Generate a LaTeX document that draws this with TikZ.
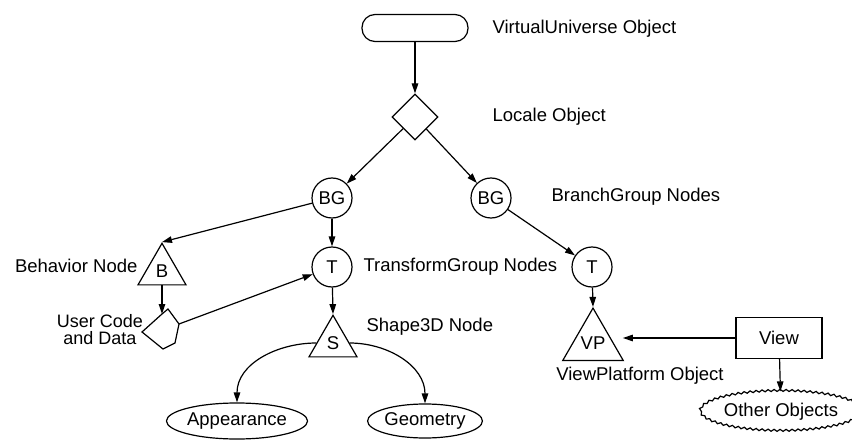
\documentclass[tikz,border=0pt]{standalone}
\usepackage{fontspec}
\setmainfont{Liberation Sans}
\usetikzlibrary{arrows.meta,shapes.geometric,decorations.pathmorphing}

\begin{document}
\begin{tikzpicture}[x=1pt,y=-1pt,line width=1.2pt,
  >={Triangle[length=10pt,width=6.5pt]},
  every node/.style={font=\fontsize{18.5}{15}\selectfont},
  GrpNode/.style={draw,circle,minimum size=40pt,inner sep=0pt},
  LeafNode/.style={draw,regular polygon,regular polygon sides=3,minimum size=55.4pt,inner sep=0pt},
  ObjNode/.style={draw,ellipse,inner sep=0pt},
  LblTxt/.style={inner sep=0pt}]
\useasboundingbox (0,0) rectangle (852,441);

\node[draw,rounded corners=13pt,minimum width=106pt,minimum height=27pt] (VU) at (415,28) {};
\node[draw,diamond,minimum width=46pt,minimum height=46pt,inner sep=0pt] (Loc) at (415,117) {};
\node[GrpNode] (BGa) at (332,198) {BG};
\node[GrpNode] (BGb) at (491,198) {BG};
\node[GrpNode] (Ta) at (332,267) {T};
\node[GrpNode] (Tb) at (592,267) {T};
\node[LeafNode] (Beh) at (162,271) {B};
\node[LeafNode] (Shp) at (333,343) {S};
\node[LeafNode] (VP) at (593,343) {VP};
\node[draw,minimum width=86pt,minimum height=41pt] (View) at (779,338) {View};
\node[ObjNode,minimum width=127pt,minimum height=36pt] (App) at (237,421) {Appearance};
\node[ObjNode,minimum width=106pt,minimum height=34pt] (Geo) at (425,421) {Geometry};
\node[ObjNode,minimum width=138pt,minimum height=40pt,decorate,
  decoration={snake,amplitude=1pt,segment length=6pt}] (Oth) at (781,412) {Other Objects};

% user code and data
\draw (142,332) -- (162,314) coordinate (UCt) -- (168,309) -- (179,324) coordinate (UCr)
  -- (175,343) -- (163,349) -- cycle;

\node[LblTxt,anchor=west] (VUTxt) at (492,29) {VirtualUniverse Object};
\node[LblTxt,anchor=west] (LocTxt) at (492,117) {Locale Object};
\node[LblTxt,anchor=west] (BGTxt) at (551,197) {BranchGroup Nodes};
\node[LblTxt,anchor=west] (TTxt) at (363,267) {TransformGroup Nodes};
\node[LblTxt,anchor=west] (ShpTxt) at (366,327) {Shape3D Node};
\node[LblTxt,anchor=east] (BehTxt) at (138,266) {Behavior Node};
\node[LblTxt,align=center,font=\fontsize{18}{17}\selectfont] (UCTxt) at (100,330) {User Code\\and Data};
\node[LblTxt] (VPTxt) at (640,376) {ViewPlatform Object};

\draw[->] (VU) -- (Loc);
\draw[->] (Loc) -- (BGa);
\draw[->] (Loc) -- (BGb);
\draw[->] (BGa) -- (Ta);
\draw[->] (BGa) -- (Beh.corner 1);
\draw[->] (BGb) -- (Tb);
\draw[->] (Beh) -- (UCt);
\draw[->] (UCr) -- (Ta);
\draw[->] (Ta) -- (Shp.corner 1);
\draw[->] (Tb) -- (VP.corner 1);
\draw[->,shorten >=9pt] (View.west) -- (View.west -| VP.east);
\draw[->] (View) -- (Oth);
\draw[->] (Shp.west) to[out=180,in=90] (App.north);
\draw[->] (Shp.east) to[out=0,in=90] (Geo.north);

\end{tikzpicture}
\end{document}
